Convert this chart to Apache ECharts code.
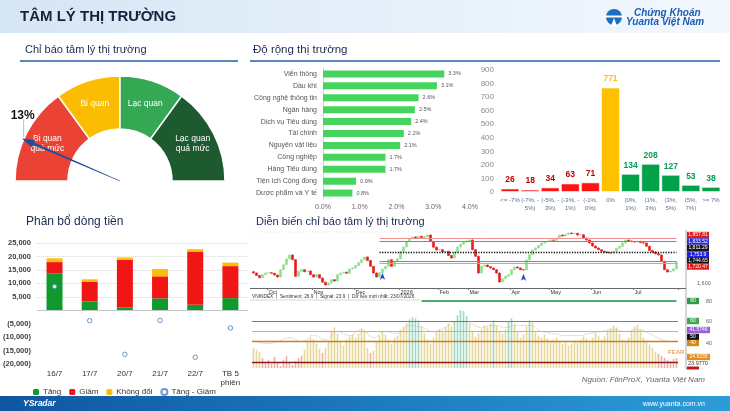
<!DOCTYPE html>
<html>
<head>
<meta charset="utf-8">
<title>Tâm lý thị trường</title>
<script src="https://cdn.jsdelivr.net/npm/echarts@6/dist/echarts.min.js"></script>
<style>
html, body { margin: 0; padding: 0; background: #fff; }
#main { width: 730px; height: 411px; }
</style>
</head>
<body>
<div id="main"></div>
<script>
// chi bao tam ly
var sentiment = 13;
var gaugeBands = [30, 20, 20, 30];
var gaugeNames = ['Bi quan\nquá mức', 'Bi quan', 'Lạc quan', 'Lạc quan\nquá mức'];
var gaugeColors = ['#ea4335', '#fbbc04', '#34a853', '#1e5a30'];

// do rong thi truong theo nganh
var sectors = ['Viễn thông', 'Dầu khí', 'Công nghệ thông tin', 'Ngân hàng', 'Dịch vụ Tiêu dùng', 'Tài chính',
  'Nguyên vật liệu', 'Công nghiệp', 'Hàng Tiêu dùng', 'Tiện ích Cộng đồng', 'Dược phẩm và Y tế'];
var sectorPct = [3.3, 3.1, 2.6, 2.5, 2.4, 2.2, 2.1, 1.7, 1.7, 0.9, 0.8];

// phan bo so ma theo bien do
var bins = ['<= -7%', '(-7%, -\n5%)', '(-5%, -\n3%)', '(-3%, -\n1%)', '(-1%,\n0%)', '0%',
  '(0%,\n1%)', '(1%,\n3%)', '(3%,\n5%)', '(5%,\n7%)', '>= 7%'];
var binCounts = [26, 18, 34, 63, 71, 771, 134, 208, 127, 53, 38];

// phan bo dong tien (ty dong)
var days = ['16/7', '17/7', '20/7', '21/7', '22/7', 'TB 5\nphiên'];
var flowUp = [13600, 3300, 1000, 4400, 2000, 4500];
var flowDown = [4300, 7200, 17700, 8200, 19800, 11900];
var flowFlat = [1400, 1000, 900, 2700, 900, 1300];
var flowNet = [8800, -3900, -16400, -3800, -17500, -6600];

// VNINDEX (gia dong cua) va chi bao tam ly
var closes = [1660, 1645, 1632, 1650, 1660, 1662, 1658, 1648, 1636, 1680,
  1710, 1745, 1768, 1740, 1640, 1670, 1680, 1668, 1672, 1650,
  1636, 1650, 1630, 1605, 1588, 1600, 1620, 1612, 1650, 1660,
  1665, 1658, 1684, 1690, 1705, 1722, 1740, 1756, 1735, 1700,
  1660, 1636, 1662, 1684, 1700, 1740, 1700, 1730, 1745, 1790,
  1816, 1850, 1866, 1876, 1870, 1880, 1872, 1878, 1888, 1850,
  1815, 1798, 1800, 1786, 1790, 1765, 1750, 1785, 1816, 1832,
  1846, 1852, 1858, 1800, 1760, 1660, 1700, 1708, 1698, 1690,
  1680, 1660, 1606, 1625, 1640, 1650, 1680, 1696, 1690, 1680,
  1678, 1738, 1770, 1798, 1810, 1825, 1840, 1846, 1852, 1858,
  1856, 1870, 1888, 1882, 1892, 1900, 1896, 1898, 1888, 1890,
  1870, 1858, 1840, 1822, 1810, 1800, 1790, 1786, 1782, 1780,
  1790, 1808, 1820, 1840, 1858, 1852, 1848, 1846, 1850, 1842,
  1840, 1820, 1795, 1786, 1776, 1768, 1730, 1680, 1666, 1672,
  1685, 1726];
var osc = [34, 32, 30, 24, 20, 22, 18, 25, 20, 16,
  22, 26, 19, 17, 21, 24, 26, 32, 41, 44,
  42, 38, 33, 29, 34, 40, 51, 54, 48, 40,
  36, 42, 45, 47, 44, 48, 53, 50, 34, 29,
  31, 40, 46, 50, 47, 42, 38, 44, 46, 52,
  55, 58, 62, 64, 63, 61, 55, 48, 42, 38,
  44, 50, 52, 49, 54, 58, 55, 60, 66, 71,
  70, 65, 58, 50, 45, 48, 53, 56, 54, 58,
  61, 56, 50, 48, 52, 60, 63, 58, 50, 44,
  47, 55, 61, 59, 50, 46, 44, 47, 43, 40,
  42, 44, 41, 38, 40, 36, 38, 41, 39, 42,
  45, 43, 40, 44, 48, 46, 42, 45, 50, 53,
  56, 54, 48, 42, 40, 44, 50, 55, 57, 52,
  44, 40, 37, 34, 30, 28, 26, 24, 22, 21,
  23, 24];
var signal = [[0, 42], [4, 38], [8, 40], [12, 44], [16, 40], [20, 46], [24, 42], [28, 50], [32, 46],
  [36, 52], [40, 44], [44, 50], [48, 48], [52, 56], [56, 54], [60, 50], [64, 54], [68, 60], [72, 58],
  [76, 54], [80, 56], [84, 54], [88, 56], [92, 56], [96, 50], [100, 48], [104, 46], [108, 46],
  [112, 48], [116, 50], [120, 52], [124, 50], [128, 52], [132, 48], [136, 42], [140, 40], [141, 41]];
var monthTicks = { 5: 'Oct', 20: 'Nov', 34: 'Dec', 49: '2026', 62: 'Feb', 72: 'Mar', 86: 'Apr', 99: 'May', 113: 'Jun', 127: 'Jul' };
var priceLevels = [1868, 1852, 1786, 1732, 1720];
var buySignals = [43, 90];

var myChart = echarts.init(document.getElementById('main'));
var idx = closes.map(function (c, i) { return String(i); });
var ohlc = closes.map(function (c, i) {
  var o = i ? closes[i - 1] : 1668;
  return [o, c, Math.min(o, c) - 3, Math.max(o, c) + 3];
});

function isMonth(i) { return monthTicks[i] !== undefined; }
function fmtNum(v) {
  if (v === 0) return '';
  var s = Math.abs(v).toLocaleString('en-US');
  return v < 0 ? '(' + s + ')' : s;
}
function oscColor(v) {
  if (v >= 60) return '#9fd8c2';
  if (v < 30) return '#ebb3a6';
  return '#e6d898';
}

// graphic: header, titles, tags, footer
var gfx = [];
gfx.push({ type: 'rect', shape: { x: 0, y: 0, width: 730, height: 33 }, silent: true,
  style: { fill: new echarts.graphic.LinearGradient(0, 0, 1, 0, [{ offset: 0, color: '#d6e6f5' }, { offset: 1, color: '#f3f8fd' }]) } });
gfx.push({ type: 'text', style: { text: 'TÂM LÝ THỊ TRƯỜNG', x: 20, y: 17, font: 'bold 15px Liberation Sans', fill: '#1b1f3b', verticalAlign: 'middle', textVerticalAlign: 'middle' } });
// logo
gfx.push({ type: 'circle', shape: { cx: 614, cy: 17, r: 8 }, style: { fill: '#1b6ec2' } });
gfx.push({ type: 'rect', shape: { x: 604, y: 15.5, width: 20, height: 2 }, style: { fill: '#fff' } });
gfx.push({ type: 'polygon', shape: { points: [[611, 26], [614, 18], [617, 26]] }, style: { fill: '#fff' } });
gfx.push({ type: 'text', style: { text: 'Chứng Khoán', x: 634, y: 13, font: 'italic bold 10px Liberation Sans', fill: '#1a5fb4', verticalAlign: 'middle', textVerticalAlign: 'middle' } });
gfx.push({ type: 'text', style: { text: 'Yuanta Việt Nam', x: 626, y: 22, font: 'italic bold 10px Liberation Sans', fill: '#1a5fb4', verticalAlign: 'middle', textVerticalAlign: 'middle' } });

function title(t, x, y, size) {
  gfx.push({ type: 'text', style: { text: t, x: x, y: y, font: size + 'px Liberation Sans', fill: '#1d2952', verticalAlign: 'middle', textVerticalAlign: 'middle' } });
}
title('Chỉ báo tâm lý thị trường', 25, 50, 11);
title('Độ rộng thị trường', 253, 50, 11.5);
title('Phân bổ dòng tiền', 26, 222, 12);
title('Diễn biến chỉ báo tâm lý thị trường', 256, 222, 11);
gfx.push({ type: 'line', shape: { x1: 20, y1: 61, x2: 238, y2: 61 }, style: { stroke: '#1f5fa8', lineWidth: 1.3 } });
gfx.push({ type: 'line', shape: { x1: 250, y1: 61, x2: 720, y2: 61 }, style: { stroke: '#1f5fa8', lineWidth: 1.3 } });

// gauge value label
var ang = Math.PI * (1 - sentiment / 100);
var tipX = 120 + 105 * Math.cos(ang), tipY = 181 - 105 * Math.sin(ang);
gfx.push({ type: 'line', shape: { x1: tipX, y1: tipY - 20, x2: tipX, y2: tipY - 2 }, style: { stroke: '#b0b0b0', lineWidth: 0.8 } });
gfx.push({ type: 'text', style: { text: sentiment + '%', x: tipX - 1, y: tipY - 24, font: 'bold 12px Liberation Sans', fill: '#111', align: 'center', textAlign: 'center', verticalAlign: 'middle', textVerticalAlign: 'middle' } });

// price / oscillator frame
gfx.push({ type: 'line', shape: { x1: 252, y1: 232, x2: 490, y2: 232 }, style: { stroke: '#ccc', lineWidth: 0.6, lineDash: [1, 2] } });
gfx.push({ type: 'line', shape: { x1: 686, y1: 230, x2: 686, y2: 370 }, style: { stroke: '#999', lineWidth: 0.8 } });
gfx.push({ type: 'line', shape: { x1: 250, y1: 288.5, x2: 686, y2: 288.5 }, style: { stroke: '#666', lineWidth: 1 } });
gfx.push({ type: 'line', shape: { x1: 250, y1: 300, x2: 420, y2: 300 }, style: { stroke: '#ccc', lineWidth: 0.8 } });
gfx.push({ type: 'text', style: { text: 'VNINDEX  |  Sentiment: 26.9  |  Signal: 23.9  |  Dữ liệu mới nhất: 23/07/2026', x: 252, y: 296.5, font: '4.8px Liberation Sans', fill: '#333', verticalAlign: 'middle', textVerticalAlign: 'middle' } });

function tag(x, y, w, t, bg, fg) {
  gfx.push({ type: 'rect', shape: { x: x, y: y - 3.2, width: w, height: 6.4 }, style: { fill: bg } });
  gfx.push({ type: 'text', style: { text: t, x: x + w / 2, y: y, font: '5px Liberation Sans', fill: fg || '#fff', align: 'center', textAlign: 'center', verticalAlign: 'middle', textVerticalAlign: 'middle' } });
}
function sideText(t, x, y, c) {
  gfx.push({ type: 'text', style: { text: t, x: x, y: y, font: '5.5px Liberation Sans', fill: c || '#666', verticalAlign: 'middle', textVerticalAlign: 'middle' } });
}
tag(687, 235, 22, '1,857.81', '#e01818');
tag(687, 241.5, 22, '1,833.52', '#2a2ad6');
tag(687, 248, 22, '1,811.29', '#151515');
tag(687, 254.5, 22, '1,753.9', '#1f1fe6');
tag(687, 260.5, 22, '1,744.65', '#151515');
tag(687, 266.5, 22, '1,720.47', '#e01818');
sideText('1,600', 697, 283);
tag(687, 301, 12, '80', '#2f9a4c');
sideText('80', 706, 301);
tag(687, 321, 12, '60', '#3fa850');
sideText('60', 706, 321);
tag(687, 330, 23, '41.5746', '#9b5cd6');
tag(687, 337, 12, '50', '#151515');
tag(687, 343, 12, '40', '#d08a1e');
sideText('40', 706, 343);
tag(687, 357, 23, '24.9335', '#e0901e');
sideText('23.9770', 688, 363, '#333');
gfx.push({ type: 'rect', shape: { x: 687, y: 366.5, width: 12, height: 3 }, style: { fill: '#c01818' } });
gfx.push({ type: 'text', style: { text: 'FEAR', x: 668, y: 352, font: 'bold 6px Liberation Sans', fill: '#e4a564', verticalAlign: 'middle', textVerticalAlign: 'middle' } });

// source + footer
gfx.push({ type: 'text', style: { text: 'Nguồn: FiinProX, Yuanta Việt Nam', x: 705, y: 380, font: 'italic 8px Liberation Sans', fill: '#666', align: 'right', textAlign: 'right', verticalAlign: 'middle', textVerticalAlign: 'middle' } });
gfx.push({ type: 'rect', shape: { x: 0, y: 396, width: 730, height: 15 }, silent: true,
  style: { fill: new echarts.graphic.LinearGradient(0, 0, 1, 0, [{ offset: 0, color: '#0e56a3' }, { offset: 1, color: '#2c9cd8' }]) } });
gfx.push({ type: 'text', style: { text: 'YSradar', x: 23, y: 404, font: 'italic bold 8.5px Liberation Sans', fill: '#fff', verticalAlign: 'middle', textVerticalAlign: 'middle' } });
gfx.push({ type: 'text', style: { text: 'www.yuanta.com.vn', x: 705, y: 404, font: '7px Liberation Sans', fill: '#fff', align: 'right', textAlign: 'right', verticalAlign: 'middle', textVerticalAlign: 'middle' } });

var option = {
  animation: false,
  textStyle: { fontFamily: 'Liberation Sans, Arial, sans-serif' },
  graphic: gfx,
  legend: {
    data: ['Tăng', 'Giảm', 'Không đổi', 'Tăng - Giảm'],
    left: 33, top: 388, padding: 0, itemWidth: 6, itemHeight: 6, itemGap: 8, z: 10,
    textStyle: { fontSize: 8, color: '#333', padding: [0, 0, 0, -1] }
  },
  grid: [
    { left: 323, top: 68, width: 147, height: 131 },
    { left: 500, top: 70, width: 221, height: 122 },
    { left: 33, top: 243, width: 215, height: 121 },
    { left: 252, top: 232, width: 426, height: 56 },
    { left: 252, top: 299, width: 426, height: 69 }
  ],
  xAxis: [
    { gridIndex: 0, type: 'value', min: 0, max: 4, interval: 1, splitLine: { show: false },
      axisLine: { show: false }, axisTick: { show: false },
      axisLabel: { formatter: function (v) { return v.toFixed(1) + '%'; }, fontSize: 7, color: '#666', margin: 5 } },
    { gridIndex: 1, type: 'category', data: bins, axisLine: { show: false }, axisTick: { show: false },
      axisLabel: { interval: 0, fontSize: 6, color: '#5b7290', lineHeight: 8, margin: 4 } },
    { gridIndex: 2, type: 'category', data: days, axisLine: { show: false, onZero: false }, axisTick: { show: false },
      axisLabel: { fontSize: 8, color: '#333', margin: 5, lineHeight: 9 } },
    { gridIndex: 3, type: 'category', data: idx, axisLine: { show: false },
      axisTick: { show: true, interval: isMonth, length: 2, lineStyle: { color: '#777' } },
      axisLabel: { interval: isMonth, formatter: function (v) { return monthTicks[v] || ''; }, fontSize: 5.5, color: '#333', margin: 1.5, align: 'left' } },
    { gridIndex: 4, type: 'category', data: idx, show: false }
  ],
  yAxis: [
    { gridIndex: 0, type: 'category', data: sectors, inverse: true, axisLine: { lineStyle: { color: '#d0d0d0' } },
      axisTick: { show: false }, axisLabel: { fontSize: 7, color: '#555', margin: 6 } },
    { gridIndex: 1, type: 'value', min: 0, max: 900, interval: 100, splitLine: { show: false },
      axisLabel: { fontSize: 8, color: '#8a8a8a', margin: 6 } },
    { gridIndex: 2, type: 'value', min: -20000, max: 25000, interval: 5000,
      axisLabel: { formatter: fmtNum, fontSize: 7.5, fontWeight: 'bold', color: '#404040', margin: 6 },
      splitLine: { lineStyle: { type: 'dotted', color: ['transparent', 'transparent', 'transparent', 'transparent', 'transparent', '#d8d8d8', '#d8d8d8', '#d8d8d8', '#d8d8d8', '#d8d8d8'] } } },
    { gridIndex: 3, type: 'value', min: 1570, max: 1906, show: false },
    { gridIndex: 4, type: 'value', min: 14, max: 82, show: false }
  ],
  series: [
    {
      type: 'pie', silent: true, center: [120, 181], radius: [52, 105], startAngle: 180, clockwise: true, z: 1,
      itemStyle: { borderColor: '#fff', borderWidth: 1.5 },
      label: { position: 'inside', color: '#fff', fontSize: 8.5, lineHeight: 10, formatter: '{b}' },
      data: gaugeBands.map(function (v, i) {
        return { value: v, name: gaugeNames[i], itemStyle: { color: gaugeColors[i] } };
      }).concat([{ value: 100, name: '', itemStyle: { color: 'transparent', borderWidth: 0 }, label: { show: false } }])
    },
    {
      type: 'gauge', silent: true, center: [120, 181], radius: 105, startAngle: 180, endAngle: 0, min: 0, max: 100, z: 20,
      axisLine: { show: false }, splitLine: { show: false }, axisTick: { show: false }, axisLabel: { show: false },
      anchor: { show: false }, title: { show: false }, detail: { show: false },
      pointer: { icon: 'path://M5,0 L10,12 L6.6,12 L5.3,100 L4.7,100 L3.4,12 L0,12 Z', length: '102%', width: 8,
        itemStyle: { color: '#1f4e9c' } },
      data: [{ value: sentiment }]
    },
    {
      type: 'bar', xAxisIndex: 0, yAxisIndex: 0, data: sectorPct, barWidth: 7,
      itemStyle: { color: '#47d45d' },
      label: { show: true, position: 'right', distance: 4, fontSize: 5.5, color: '#555',
        formatter: function (p) { return p.value.toFixed(1) + '%'; } }
    },
    {
      type: 'bar', xAxisIndex: 1, yAxisIndex: 1, barCategoryGap: '6%',
      data: binCounts.map(function (v, i) {
        var c = i < 5 ? '#ff1414' : (i === 5 ? '#ffc000' : '#03a04a');
        var lc = i < 5 ? '#c00000' : (i === 5 ? '#ffc000' : '#00a050');
        return { value: v, itemStyle: { color: c }, label: { color: lc } };
      }),
      itemStyle: { borderColor: 'rgba(255,255,255,0.55)', borderWidth: 1 },
      label: { show: true, position: 'top', distance: 4, fontSize: 8.5, fontWeight: 'bold' }
    },
    {
      name: 'Tăng', type: 'bar', xAxisIndex: 2, yAxisIndex: 2, stack: 'flow', barWidth: 16, data: flowUp,
      itemStyle: { color: '#0e9a2c' },
      markLine: { silent: true, symbol: 'none', label: { show: false }, lineStyle: { color: '#c4c4c4', type: 'solid', width: 1 }, data: [{ yAxis: 0 }] }
    },
    { name: 'Giảm', type: 'bar', xAxisIndex: 2, yAxisIndex: 2, stack: 'flow', barWidth: 16, data: flowDown, itemStyle: { color: '#f01616' } },
    { name: 'Không đổi', type: 'bar', xAxisIndex: 2, yAxisIndex: 2, stack: 'flow', barWidth: 16, data: flowFlat, itemStyle: { color: '#fbbd08' } },
    {
      name: 'Tăng - Giảm', type: 'scatter', xAxisIndex: 2, yAxisIndex: 2, data: flowNet, symbolSize: 4.5,
      itemStyle: { color: '#fff', borderColor: '#4a7fc1', borderWidth: 1 }, z: 5
    },
    {
      type: 'candlestick', xAxisIndex: 3, yAxisIndex: 3, data: ohlc, barWidth: 2,
      itemStyle: { color: '#8ee08e', color0: '#e31c1c', borderColor: '#8ee08e', borderColor0: '#e31c1c', borderWidth: 0.6 },
      markLine: {
        silent: true, symbol: 'none', label: { show: false },
        data: [
          [{ coord: [42, priceLevels[0]], lineStyle: { color: '#f09090', width: 1, type: 'solid' } }, { coord: [141, priceLevels[0]] }],
          [{ coord: [42, priceLevels[1]], lineStyle: { color: '#7c7ce6', width: 1, type: 'solid' } }, { coord: [141, priceLevels[1]] }],
          [{ coord: [42, priceLevels[2]], lineStyle: { color: '#111', width: 1.3, type: 'dotted' } }, { coord: [141, priceLevels[2]] }],
          [{ coord: [42, priceLevels[3]], lineStyle: { color: '#7c7ce6', width: 1, type: 'solid' } }, { coord: [141, priceLevels[3]] }],
          [{ coord: [42, priceLevels[4]], lineStyle: { color: '#f09090', width: 1, type: 'solid' } }, { coord: [141, priceLevels[4]] }]
        ]
      },
      markPoint: {
        silent: true, symbol: 'arrow', symbolSize: [4, 7], label: { show: false },
        itemStyle: { color: '#2244e0' },
        data: buySignals.map(function (i) { return { coord: [i, closes[i] - 22] }; })
      }
    },
    {
      type: 'bar', xAxisIndex: 4, yAxisIndex: 4, barWidth: 1.6,
      data: osc.map(function (v) { return { value: v, itemStyle: { color: oscColor(v) } }; }),
      markLine: {
        silent: true, symbol: 'none', label: { show: false },
        data: [
          { yAxis: 60, lineStyle: { color: '#4d9e4d', width: 1, type: 'solid' } },
          { yAxis: 50, lineStyle: { color: '#b4b4b4', width: 1, type: 'solid' } },
          { yAxis: 40, lineStyle: { color: '#c8841a', width: 1.3, type: 'solid' } },
          { yAxis: 20, lineStyle: { color: '#8c1c1c', width: 1.3, type: 'solid' } },
          [{ coord: [56, 80], lineStyle: { color: '#4caf6a', width: 2, type: 'solid' } }, { coord: [141, 80] }]
        ]
      }
    },
    {
      type: 'line', xAxisIndex: 4, yAxisIndex: 4, data: signal, smooth: true, symbol: 'none', silent: true,
      lineStyle: { color: '#c9aaa0', width: 0.8, type: 'dotted' }
    }
  ]
};

myChart.setOption(option);
</script>
</body>
</html>
